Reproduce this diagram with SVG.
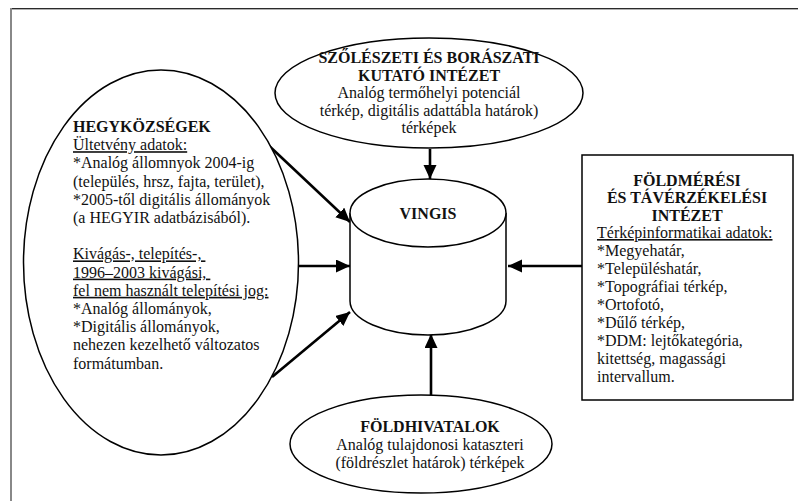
<svg xmlns="http://www.w3.org/2000/svg" width="798" height="501" viewBox="0 0 798 501" font-family="'Liberation Serif', 'Times New Roman', Times, serif">
<defs>
<marker id="ah" markerUnits="userSpaceOnUse" markerWidth="16" markerHeight="14" refX="14" refY="6.5" orient="auto">
<path d="M0,0 L14,6.5 L0,13 Z" fill="#000"/>
</marker>
<style>
text{font-size:16px;fill:#111;}
.b{font-weight:bold;}
.c{text-anchor:middle;}
.u{text-decoration:underline;}
.shape{fill:#fff;stroke:#000;stroke-width:1.5;}
.conn{stroke:#000;stroke-width:2.6;fill:none;marker-end:url(#ah);}
</style>
</defs>
<rect x="0" y="0" width="798" height="501" fill="#fff"/>
<g id="frame">
<line x1="10" y1="8.5" x2="798" y2="8.5" stroke="#2a2a2a" stroke-width="1"/>
<line x1="12" y1="9.5" x2="798" y2="9.5" stroke="#b0b0b0" stroke-width="1"/>
<line x1="11" y1="8" x2="11" y2="501" stroke="#888" stroke-width="2"/>
</g>
<g id="connectors">
<line class="conn" x1="430" y1="149" x2="430" y2="179"/>
<line class="conn" x1="265" y1="142" x2="350" y2="222"/>
<line class="conn" x1="298" y1="266" x2="350" y2="266"/>
<line class="conn" x1="272" y1="377" x2="350" y2="312"/>
<line class="conn" x1="582" y1="266" x2="508" y2="266"/>
<line class="conn" x1="431" y1="395" x2="431" y2="334"/>
</g>
<g id="szoleszeti">
<ellipse class="shape" cx="429" cy="93" rx="154" ry="55"/>
<text class="b c" x="429" y="63">SZŐLÉSZETI ÉS BORÁSZATI</text>
<text class="b c" x="429" y="80.5">KUTATÓ INTÉZET</text>
<text class="c" x="429" y="98">Analóg termőhelyi potenciál</text>
<text class="c" x="429" y="115.5">térkép, digitális adattábla határok)</text>
<text class="c" x="429" y="133">térképek</text>
</g>
<g id="hegykozsegek">
<ellipse class="shape" cx="161" cy="262.5" rx="137.5" ry="192.5"/>
<text class="b" x="73" y="132">HEGYKÖZSÉGEK</text>
<text class="u" x="73" y="150.2">Ültetvény adatok:</text>
<text x="73" y="168.4">*Analóg állomnyok 2004-ig</text>
<text x="73" y="186.6">(település, hrsz, fajta, terület),</text>
<text x="73" y="204.8">*2005-től digitális állományok</text>
<text x="73" y="223">(a HEGYIR adatbázisából).</text>
<text class="u" x="73" y="259.4">Kivágás-, telepítés-,&#160;</text>
<text class="u" x="73" y="277.6">1996–2003 kivágási,&#160;</text>
<text class="u" x="73" y="295.8">fel nem használt telepítési jog:</text>
<text x="73" y="314">*Analóg állományok,</text>
<text x="73" y="332.2">*Digitális állományok,</text>
<text x="73" y="350.4">nehezen kezelhető változatos</text>
<text x="73" y="368.6">formátumban.</text>
</g>
<g id="vingis">
<path class="shape" d="M350,213 L350,301 A78,34 0 0 0 506,301 L506,213"/>
<ellipse class="shape" cx="428" cy="213" rx="78" ry="34"/>
<text class="b c" x="428" y="219">VINGIS</text>
</g>
<g id="foldmeresi">
<rect class="shape" x="582" y="155" width="211" height="245"/>
<text class="b c" x="687" y="185.5">FÖLDMÉRÉSI</text>
<text class="b c" x="687" y="203">ÉS TÁVÉRZÉKELÉSI</text>
<text class="b c" x="687" y="220.5">INTÉZET</text>
<text class="u" x="597" y="238">Térképinformatikai adatok:</text>
<text x="597" y="256">*Megyehatár,</text>
<text x="597" y="274">*Településhatár,</text>
<text x="597" y="292">*Topográfiai térkép,</text>
<text x="597" y="310">*Ortofotó,</text>
<text x="597" y="328">*Dűlő térkép,</text>
<text x="597" y="346">*DDM: lejtőkategória,</text>
<text x="597" y="364">kitettség, magassági</text>
<text x="597" y="382">intervallum.</text>
</g>
<g id="foldhivatalok">
<ellipse class="shape" cx="421" cy="444" rx="131" ry="49"/>
<text class="b c" x="430" y="432">FÖLDHIVATALOK</text>
<text class="c" x="430" y="450">Analóg tulajdonosi kataszteri</text>
<text class="c" x="430" y="468">(földrészlet határok) térképek</text>
</g>
</svg>
